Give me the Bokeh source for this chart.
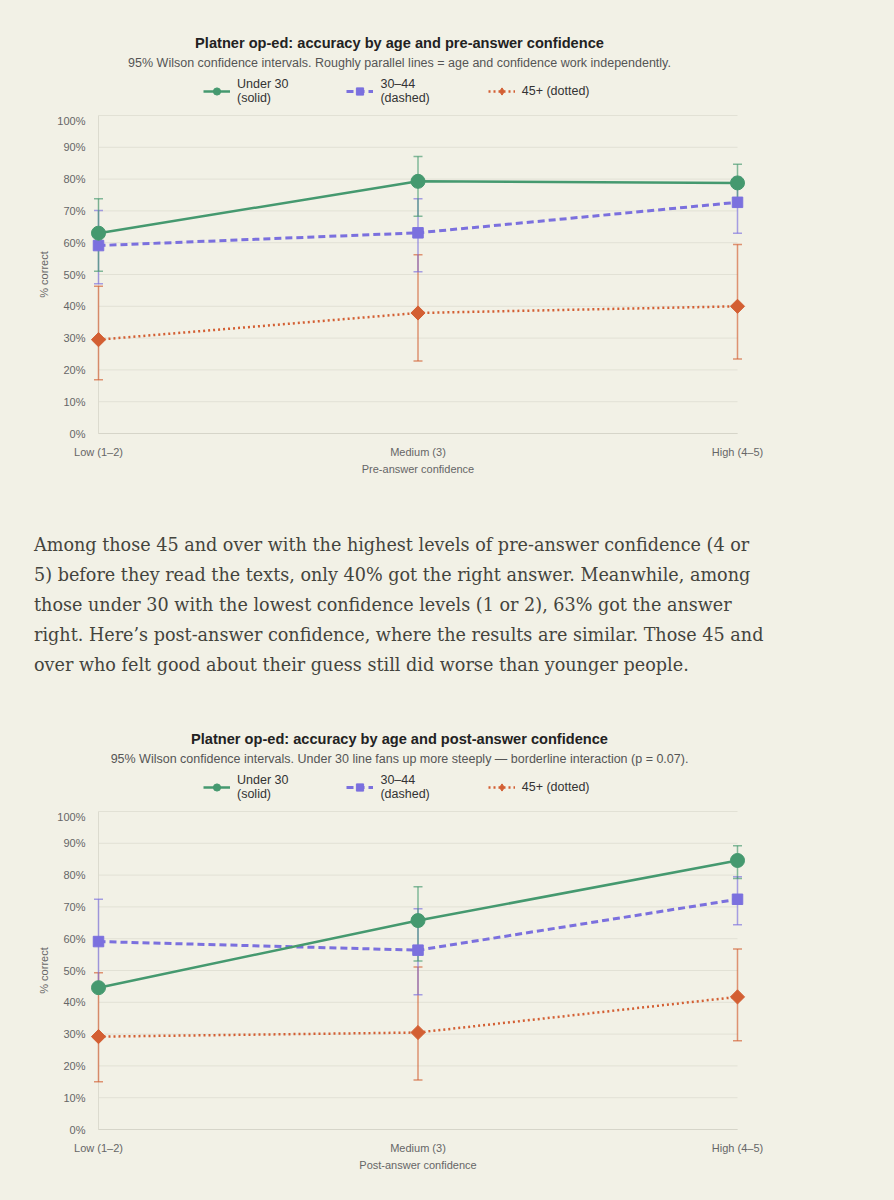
from bokeh.plotting import figure
from bokeh.models import (Range1d, FixedTicker, PrintfTickFormatter, Label, Legend,
                          LegendItem, Whisker, TeeHead, ColumnDataSource, Div)
from bokeh.layouts import column
from bokeh.embed import file_html
from bokeh.resources import INLINE
import math

# ---------------- data ----------------
categories = ["Low (1–2)", "Medium (3)", "High (4–5)"]
y_ticks = [0, 10, 20, 30, 40, 50, 60, 70, 80, 90, 100]

series_names = ["Under 30\n(solid)", "30–44\n(dashed)", "45+ (dotted)"]

# pre-answer confidence (% correct, Wilson 95% CI)
pre_u30 = [63.0, 79.3, 78.8]
pre_u30_lo = [51.0, 68.3, 71.5]
pre_u30_hi = [73.8, 87.1, 84.7]
pre_mid = [59.1, 63.1, 72.7]
pre_mid_lo = [47.1, 50.9, 63.0]
pre_mid_hi = [70.1, 73.8, 80.5]
pre_old = [29.5, 37.9, 40.0]
pre_old_lo = [16.9, 22.8, 23.4]
pre_old_hi = [46.3, 56.2, 59.4]

# post-answer confidence
post_u30 = [44.6, 65.7, 84.6]
post_u30_lo = [float("nan"), 53.0, 78.9]
post_u30_hi = [float("nan"), 76.3, 89.2]
post_mid = [59.1, 56.4, 72.4]
post_mid_lo = [45.5, 42.4, 64.4]
post_mid_hi = [72.4, 69.4, 79.5]
post_old = [29.2, 30.5, 41.7]
post_old_lo = [15.0, 15.6, 27.9]
post_old_hi = [49.3, 51.1, 56.8]

paragraph_lines = [
    "Among those 45 and over with the highest levels of pre-answer confidence (4 or",
    "5) before they read the texts, only 40% got the right answer. Meanwhile, among",
    "those under 30 with the lowest confidence levels (1 or 2), 63% got the answer",
    "right. Here’s post-answer confidence, where the results are similar. Those 45 and",
    "over who felt good about their guess still did worse than younger people.",
]

# ---------------- style ----------------
BG = "#f2f1e6"
GRID = "#e2e1d5"
GREEN = "#45996f"
PURPLE = "#7b70de"
ORANGE = "#d35f33"
FONT = "Liberation Sans"

FIG_W = 790
HEAD_H = 114
MAIN_H = 376
B_LEFT, B_RIGHT, B_BOTTOM = 86, 41, 56
PAD_PX = 12
TITLE_CX = 399  # canvas x of the centred title block

# colour, dash, width, chart marker, size, angle, legend marker
STYLES = [
    (GREEN, "solid", 2.5, "circle", 14, 0.0, "circle"),
    (PURPLE, "7 4", 3, "square", 10.5, 0.0, "square"),
    (ORANGE, "2 3", 2.5, "square", 10, math.pi / 4, "diamond"),
]


def make_header(title, subtitle):
    h = figure(width=FIG_W, height=HEAD_H, x_range=Range1d(0, 1), y_range=Range1d(0, 1),
               output_backend="svg", toolbar_location=None,
               min_border_left=B_LEFT, min_border_right=B_RIGHT,
               min_border_top=0, min_border_bottom=0,
               x_axis_type=None, y_axis_type=None,
               background_fill_color=BG, border_fill_color=BG, outline_line_color=None)
    h.grid.visible = False
    cx = TITLE_CX - B_LEFT
    h.add_layout(Label(x=cx, y=HEAD_H - 42, x_units="screen", y_units="screen", text=title,
                       text_align="center", text_baseline="middle", text_font=FONT,
                       text_font_size="14.6px", text_font_style="bold", text_color="#222222"))
    h.add_layout(Label(x=cx, y=HEAD_H - 62, x_units="screen", y_units="screen", text=subtitle,
                       text_align="center", text_baseline="middle", text_font=FONT,
                       text_font_size="12.5px", text_color="#555555"))
    items = []
    nan = float("nan")
    for idx in range(3):
        color, dash, lw, marker, size, ang, lmarker = STYLES[idx]
        # legend proxies: one non-drawable (NaN) point each
        lr = h.line(x=[nan], y=[nan], line_color=color, line_width=lw, line_dash=dash)
        sr = h.scatter(x=[nan], y=[nan], marker=lmarker, size=size,
                       fill_color=color, line_color=color)
        items.append(LegendItem(label=series_names[idx], renderers=[lr, sr]))
    legend = Legend(items=items, orientation="horizontal", location=(203 - B_LEFT, 9),
                    glyph_width=27, glyph_height=18, label_standoff=7, spacing=58,
                    padding=0, margin=0, border_line_color=None,
                    background_fill_alpha=0, label_text_font_size="12.5px",
                    label_text_font=FONT, label_text_color="#333333",
                    label_text_line_height=1.15)
    h.add_layout(legend)
    return h


def make_chart(xlabel, data):
    frame_w = FIG_W - B_LEFT - B_RIGHT
    frame_h = MAIN_H - B_BOTTOM
    n = len(categories) - 1
    unit = (frame_w - 2 * PAD_PX) / n
    xpad = PAD_PX / unit
    ypad = 1 * 100 / (frame_h - 2)
    p = figure(width=FIG_W, height=MAIN_H,
               x_range=Range1d(-xpad, n + xpad),
               y_range=Range1d(-ypad, 100 + ypad),
               output_backend="svg", toolbar_location=None,
               min_border_left=B_LEFT, min_border_right=B_RIGHT,
               min_border_top=0, min_border_bottom=B_BOTTOM,
               background_fill_color=BG, border_fill_color=BG,
               outline_line_color=None)
    p.grid.visible = False

    # gridlines limited to the category span
    p.segment(x0=[0] * len(y_ticks), x1=[n] * len(y_ticks), y0=y_ticks, y1=y_ticks,
              line_color=GRID, line_width=1, level="image")
    p.segment(x0=[0], x1=[0], y0=[y_ticks[0]], y1=[y_ticks[-1]],
              line_color="#dcdbcf", line_width=1, level="image")
    p.segment(x0=[0], x1=[n], y0=[0], y1=[0],
              line_color="#d6d5c9", line_width=1, level="image")

    xs = list(range(len(categories)))
    for idx in [2, 1, 0]:
        vals, lo, hi = data[idx]
        color, dash, lw, marker, size, ang, _ = STYLES[idx]
        ok = [not (math.isnan(a) or math.isnan(b)) for a, b in zip(lo, hi)]
        src = ColumnDataSource(dict(x=[x for x, k in zip(xs, ok) if k],
                                    lo=[a for a, k in zip(lo, ok) if k],
                                    hi=[b for b, k in zip(hi, ok) if k]))
        w = Whisker(base="x", lower="lo", upper="hi", source=src, dimension="height",
                    line_color=color, line_alpha=0.65, line_width=1.5, level="underlay",
                    upper_head=TeeHead(size=9, line_color=color, line_alpha=0.65, line_width=1.5),
                    lower_head=TeeHead(size=9, line_color=color, line_alpha=0.65, line_width=1.5))
        p.add_layout(w)
        p.line(xs, vals, line_color=color, line_width=lw, line_dash=dash)
        p.scatter(xs, vals, marker=marker, size=size, angle=ang,
                  fill_color=color, line_color=color)

    p.xaxis.ticker = FixedTicker(ticks=xs)
    p.xaxis.major_label_overrides = {i: c for i, c in enumerate(categories)}
    p.yaxis.ticker = FixedTicker(ticks=y_ticks)
    p.yaxis.formatter = PrintfTickFormatter(format="%d%%")
    for ax in (p.xaxis, p.yaxis):
        ax.axis_line_color = None
        ax.major_tick_line_color = None
        ax.minor_tick_line_color = None
        ax.major_tick_out = 0
        ax.major_tick_in = 0
        ax.major_label_text_font = FONT
        ax.major_label_text_font_size = "11px"
        ax.major_label_text_color = "#666666"
        ax.axis_label_text_font = FONT
        ax.axis_label_text_font_size = "11px"
        ax.axis_label_text_font_style = "normal"
        ax.axis_label_text_color = "#666666"
    p.xaxis.axis_label = xlabel
    p.xaxis.major_label_standoff = 11
    p.xaxis.axis_label_standoff = 2
    p.yaxis.axis_label = "% correct"
    p.yaxis.major_label_standoff = 1
    p.yaxis.axis_label_standoff = 4
    return p


h1 = make_header("Platner op-ed: accuracy by age and pre-answer confidence",
                 "95% Wilson confidence intervals. Roughly parallel lines = age and confidence work independently.")
p1 = make_chart("Pre-answer confidence",
                [(pre_u30, pre_u30_lo, pre_u30_hi),
                 (pre_mid, pre_mid_lo, pre_mid_hi),
                 (pre_old, pre_old_lo, pre_old_hi)])

h2 = make_header("Platner op-ed: accuracy by age and post-answer confidence",
                 "95% Wilson confidence intervals. Under 30 line fans up more steeply — borderline interaction (p = 0.07).")
p2 = make_chart("Post-answer confidence",
                [(post_u30, post_u30_lo, post_u30_hi),
                 (post_mid, post_mid_lo, post_mid_hi),
                 (post_old, post_old_lo, post_old_hi)])

para_html = ('<div style="margin:0;padding:40px 0 0 34px;font-family:\'DejaVu Serif\';'
             'font-size:17.6px;line-height:30px;color:#44443d;white-space:nowrap;">'
             + "<br>".join(paragraph_lines) + "</div>")
div = Div(text=para_html, width=880, height=206, margin=0)

layout = column(h1, p1, div, h2, p2, spacing=0)

html = file_html(layout, INLINE, title="Platner op-ed")
html = html.replace("<head>", "<head><style>html,body{background:%s;}</style>" % BG, 1)
open("out.html", "w").write(html)
